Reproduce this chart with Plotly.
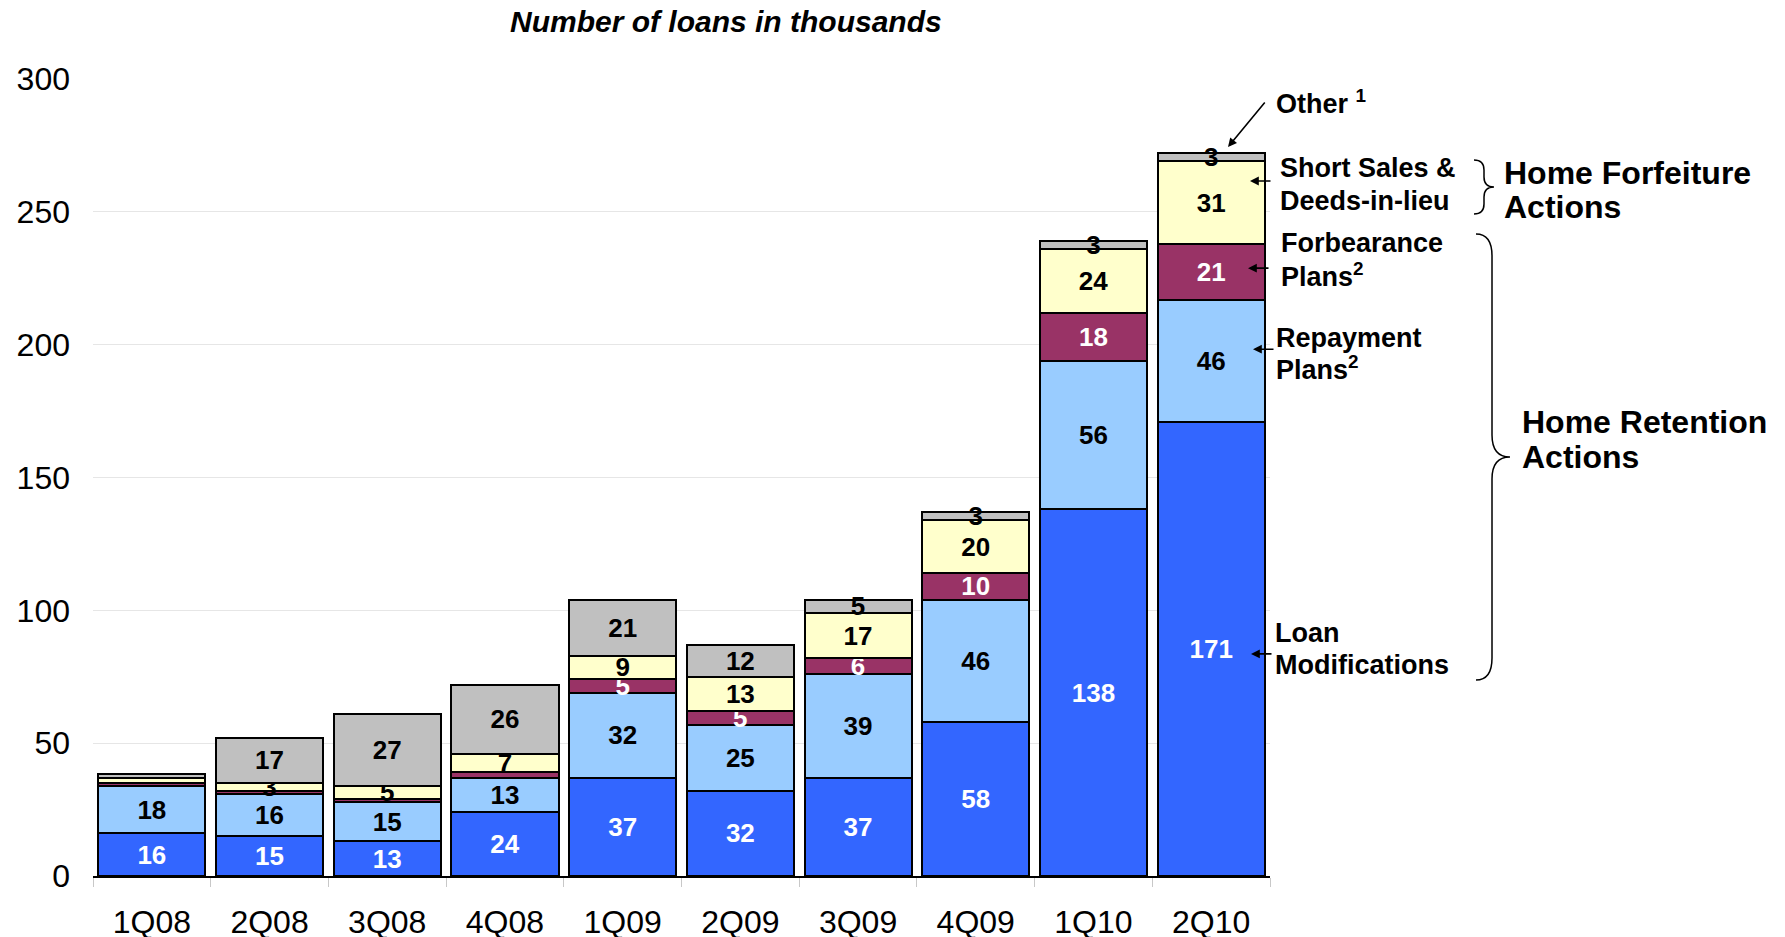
import plotly.graph_objects as go

quarters = ["1Q08", "2Q08", "3Q08", "4Q08", "1Q09", "2Q09", "3Q09", "4Q09", "1Q10", "2Q10"]
loan_mods = [16, 15, 13, 24, 37, 32, 37, 58, 138, 171]
repayment = [18, 16, 15, 13, 32, 25, 39, 46, 56, 46]
forbearance = [1, 1, 1, 2, 5, 5, 6, 10, 18, 21]
short_sales = [2, 3, 5, 7, 9, 13, 17, 20, 24, 31]
other = [1.5, 17, 27, 26, 21, 12, 5, 3, 3, 3]

series = [
    ("Loan Modifications", loan_mods, "#3366FF", "white"),
    ("Repayment Plans", repayment, "#99CCFF", "black"),
    ("Forbearance Plans", forbearance, "#993366", "white"),
    ("Short Sales & Deeds-in-lieu", short_sales, "#FFFFCC", "black"),
    ("Other", other, "#C0C0C0", "black"),
]

FONT = "Arial, Liberation Sans, sans-serif"

fig = go.Figure()
for name, vals, color, tcolor in series:
    fig.add_trace(go.Bar(
        x=quarters, y=vals, name=name,
        marker=dict(color=color, line=dict(color="black", width=2)),
        text=[(str(int(v)) if v >= 3 else "") for v in vals],
        textposition="inside", insidetextanchor="middle", textangle=0,
        constraintext="none",
        textfont=dict(family=FONT, size=26, color=tcolor, weight="bold"),
        hoverinfo="skip",
    ))

# plot area in pixels
PL, PR, PT, PB = 93, 1270, 79, 876
W, H = PR - PL, PB - PT

def px(x):
    return (x - PL) / W

def py(y):
    return (PB - y) / H

annotations = []

def label(text, x, y, size=27):
    annotations.append(dict(
        text=text, x=px(x), y=py(y), xref="paper", yref="paper",
        xanchor="left", yanchor="middle", showarrow=False,
        font=dict(family=FONT, size=size, color="black", weight="bold"),
    ))

# title
annotations.append(dict(
    text="<b><i>Number of loans in thousands</i></b>", x=px(726), y=py(22),
    xref="paper", yref="paper", xanchor="center", yanchor="middle",
    showarrow=False, font=dict(family=FONT, size=30, color="black"),
))

label("Other <sup>1</sup>", 1274, 102)
label("Short Sales &", 1278, 168)
label("Deeds-in-lieu", 1278, 201)
label("Forbearance", 1279, 243)
label("Plans<sup>2</sup>", 1279, 275)
label("Repayment", 1274, 338)
label("Plans<sup>2</sup>", 1274, 368)
label("Loan", 1273, 633)
label("Modifications", 1273, 665)
label("Home Forfeiture", 1502, 173, 32)
label("Actions", 1502, 207, 32)
label("Home Retention", 1520, 422, 32)
label("Actions", 1520, 457, 32)

# arrows to segments (head x in pixels, head y in data units)
arrow_points = [(1250, 261.6), (1248, 228.8), (1253, 198.3), (1251, 83.6)]
for hx, hy in arrow_points:
    annotations.append(dict(
        text="", x=px(hx), y=hy, xref="paper", yref="y",
        ax=22, ay=0, showarrow=True, arrowhead=2, arrowsize=1.1,
        arrowwidth=1.6, arrowcolor="black", standoff=0,
    ))
# Other arrow
annotations.append(dict(
    text="", x=px(1228), y=(PB - 147) / H * 300, xref="paper", yref="y",
    ax=38, ay=-46, showarrow=True, arrowhead=2, arrowsize=1.1,
    arrowwidth=1.6, arrowcolor="black", standoff=0,
))

def brace(x0, xm, xt, ytop, ymid, ybot, r):
    pts = [
        ("M", x0, ytop),
        ("Q", xm, ytop, xm, ytop + r),
        ("L", xm, ymid - r),
        ("Q", xm, ymid, xt, ymid),
        ("Q", xm, ymid, xm, ymid + r),
        ("L", xm, ybot - r),
        ("Q", xm, ybot, x0, ybot),
    ]
    s = ""
    for p in pts:
        cmd = p[0]
        coords = p[1:]
        pairs = []
        for i in range(0, len(coords), 2):
            pairs.append(f"{px(coords[i]):.5f},{py(coords[i+1]):.5f}")
        s += cmd + " " + " ".join(pairs) + " "
    return s.strip()

shapes = [
    dict(type="path", xref="paper", yref="paper",
         path=brace(1474, 1484, 1494, 160, 187, 214, 10),
         line=dict(color="black", width=1.5)),
    dict(type="path", xref="paper", yref="paper",
         path=brace(1476, 1492, 1510, 234, 457, 680, 22),
         line=dict(color="black", width=1.5)),
]

fig.update_layout(
    barmode="stack", bargap=0.09,
    width=1785, height=937,
    margin=dict(l=PL, r=1785 - PR, t=PT, b=937 - PB, autoexpand=False),
    paper_bgcolor="white", plot_bgcolor="white",
    showlegend=False,
    annotations=annotations, shapes=shapes,
    font=dict(family=FONT, color="black"),
)
fig.update_xaxes(
    type="category", range=[-0.5, 9.5],
    showline=True, linecolor="black", linewidth=2,
    ticks="outside", tickson="boundaries", ticklen=9, tickcolor="#c8c8c8", tickwidth=1,
    ticklabelstandoff=17,
    tickfont=dict(family=FONT, size=32, color="black"),
    showgrid=False,
)
fig.update_yaxes(
    range=[0, 300], tickvals=[0, 50, 100, 150, 200, 250, 300],
    showgrid=True, gridcolor="#e6e6e6", gridwidth=1,
    showline=False, ticks="", zeroline=False,
    ticklabelstandoff=22,
    tickfont=dict(family=FONT, size=32, color="black"),
)

fig.write_html(
    "out.html",
    config={"displayModeBar": False},
    post_script="document.body.style.margin='0';document.body.style.overflow='hidden';",
)
